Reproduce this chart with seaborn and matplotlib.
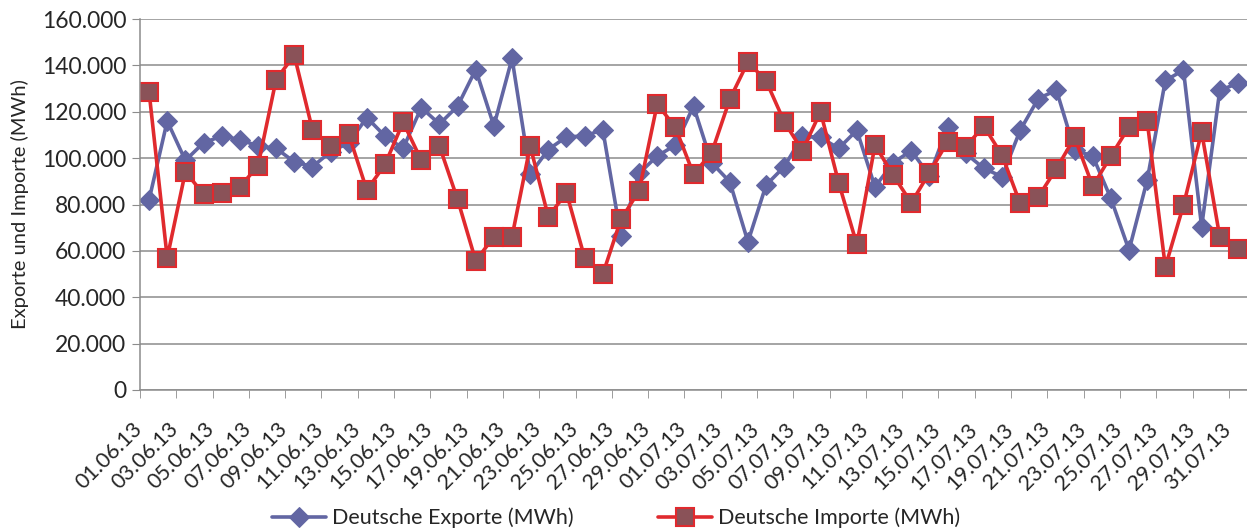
import numpy as np
import pandas as pd
import matplotlib
matplotlib.use("Agg")
import matplotlib.pyplot as plt
import matplotlib.transforms as mtransforms
from matplotlib.ticker import FuncFormatter, FixedLocator
import seaborn as sns

# ==========================
# Daten (MWh pro Tag, 01.06.13 - 31.07.13)
# ==========================
dates = pd.date_range("2013-06-01", "2013-07-31", freq="D").strftime("%d.%m.%y").tolist()

exporte = [82000, 116000, 99000, 106600, 109500, 108000, 105200, 104200, 98400, 96300,
           102700, 106600, 117500, 109500, 104200, 121800, 114700, 122400, 138200, 113900,
           143000, 93100, 103700, 109200, 109500, 112300, 66400, 93400, 100900, 105600,
           122400, 98000, 89800, 63900, 88400, 96300, 109500, 108900, 104200, 112000,
           87600, 98000, 103200, 92500, 113500, 102000, 95600, 92000, 112000, 125700,
           129300, 103500, 100900, 82600, 60300, 90500, 133500, 137900, 70400, 129300,
           132200]

importe = [128600, 57000, 94100, 84500, 85100, 87600, 96600, 133900, 144400, 112300,
           105200, 110300, 86200, 97300, 115500, 99100, 105200, 82200, 55700, 66100,
           66100, 105200, 74700, 85100, 57000, 49900, 73600, 85800, 123300, 113300,
           93100, 102300, 125400, 141500, 133300, 115700, 103200, 120000, 89400, 62800,
           105600, 92700, 80700, 93700, 107000, 105000, 113800, 101300, 80500, 83300,
           95500, 108900, 87900, 100900, 113500, 116000, 53100, 79700, 111300, 66000,
           61000]

df = pd.DataFrame({"tag": np.arange(len(dates)), "datum": dates,
                   "Deutsche Exporte (MWh)": exporte,
                   "Deutsche Importe (MWh)": importe})

# ==========================
# Grafik
# ==========================
sns.set_style("white")
plt.rcParams['font.family'] = ['Lato', 'DejaVu Sans']
fs = 15.5

fig = plt.figure(figsize=(12.47, 5.32), dpi=100)
ax = fig.add_axes([140 / 1247, 1 - 390 / 532, 1 - 140 / 1247, (390 - 19) / 532])

grau = "#8c8c8c"
ax.yaxis.grid(True, color=grau, linewidth=1.1)
ax.set_axisbelow(True)

sns.lineplot(data=df, x="tag", y="Deutsche Exporte (MWh)", ax=ax, color="#6266a3",
             linewidth=2.6, marker="D", markersize=10.5, markeredgecolor="#6266a3",
             label="Deutsche Exporte (MWh)", legend=False)
sns.lineplot(data=df, x="tag", y="Deutsche Importe (MWh)", ax=ax, color="#e02a2e",
             linewidth=2.6, marker="s", markersize=12.5, markerfacecolor="#8a5258",
             markeredgecolor="#e02a2e", markeredgewidth=1.5,
             label="Deutsche Importe (MWh)", legend=False)

ax.set_xlim(-0.5, len(dates) - 0.5)
ax.set_ylim(0, 160000)
ax.set_yticks(np.arange(0, 160001, 20000))
ax.yaxis.set_major_formatter(FuncFormatter(lambda v, p: f"{int(v):,}".replace(",", ".")))

# Beschriftung jeden zweiten Tag, Striche zwischen den Kategorien
ax.set_xticks(np.arange(0, len(dates), 2))
ax.set_xticklabels(dates[::2], rotation=45, ha="right", va="center", rotation_mode="anchor")
ax.xaxis.set_minor_locator(FixedLocator(np.arange(-0.5, len(dates), 2)))
ax.tick_params(axis="x", which="major", length=0, pad=26, labelsize=fs)
ax.tick_params(axis="x", which="minor", length=6, color=grau, direction="out", bottom=True)
ax.tick_params(axis="y", length=6, color=grau, direction="out", left=True, labelsize=16.5, pad=4)
verschiebung = mtransforms.ScaledTranslation(-10 / 100, 0, fig.dpi_scale_trans)
for lbl in ax.get_xticklabels():
    lbl.set_transform(lbl.get_transform() + verschiebung)

ax.set_xlabel("")
ax.set_ylabel("Exporte und Importe (MWh)", fontsize=14.5)
ax.yaxis.set_label_coords(-111 / 1107, 0.5)

for s in ["top", "right"]:
    ax.spines[s].set_visible(False)
for s in ["left", "bottom"]:
    ax.spines[s].set_color(grau)
    ax.spines[s].set_linewidth(1.1)

handles, labels = ax.get_legend_handles_labels()
fig.legend(handles, labels, loc="center", bbox_to_anchor=(616 / 1247, 14 / 532), ncol=2,
           frameon=False, fontsize=fs, handlelength=2.5, handletextpad=0.3,
           columnspacing=3.9, borderpad=0)

fig.savefig("out.png", dpi=100)
